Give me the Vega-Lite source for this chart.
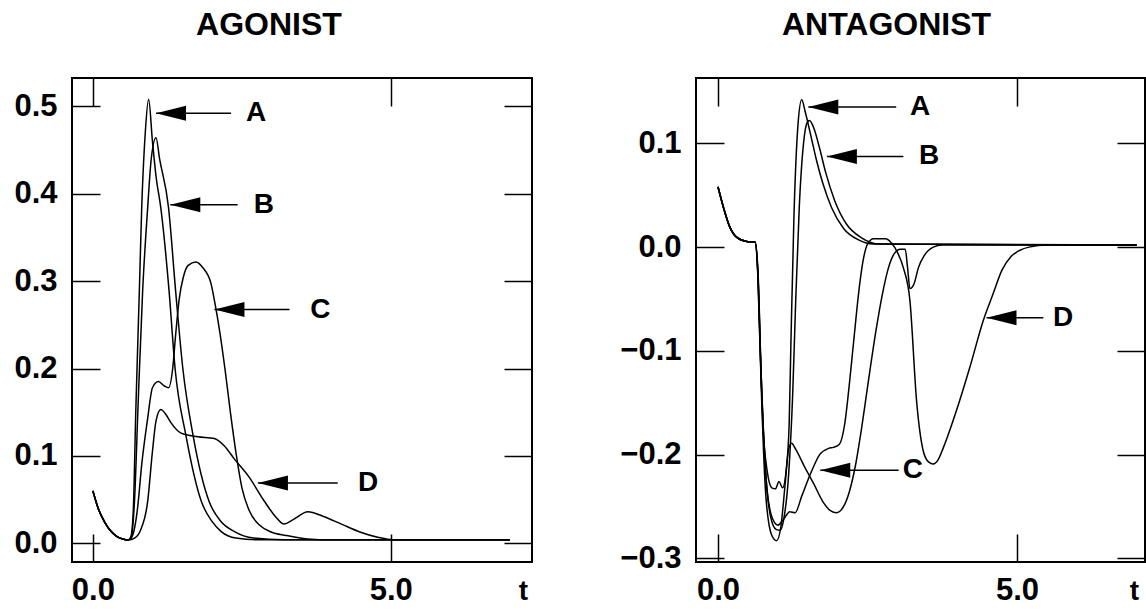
{
  "$schema": "https://vega.github.io/schema/vega-lite/v6.json",
  "background": "white",
  "padding": {"left": 11, "top": 8, "right": 0, "bottom": 0},
  "spacing": 71,
  "config": {
    "view": {"stroke": "black", "strokeWidth": 2},
    "font": "Liberation Sans",
    "axis": {"grid": false, "domain": false, "tickColor": "black", "tickWidth": 1.5, "tickSize": -28, "labelFont": "Liberation Sans", "labelFontSize": 31, "labelFontWeight": "bold", "labelColor": "black", "titleFont": "Liberation Sans", "titleFontSize": 28, "titleFontWeight": "bold", "titleColor": "black"},
    "title": {"font": "Liberation Sans", "fontSize": 32, "fontWeight": "bold", "color": "black"}
  },
  "datasets": {
    "agonist": [
      {"curve":"A","t":0,"v":0.06},{"curve":"A","t":0.1,"v":0.038},{"curve":"A","t":0.2,"v":0.024},{"curve":"A","t":0.3,"v":0.014},{"curve":"A","t":0.4,"v":0.008},{"curve":"A","t":0.5,"v":0.005},{"curve":"A","t":0.6,"v":0.004},
      {"curve":"A","t":0.64,"v":0.008},{"curve":"A","t":0.68,"v":0.04},{"curve":"A","t":0.72,"v":0.15},{"curve":"A","t":0.78,"v":0.288},{"curve":"A","t":0.82,"v":0.384},{"curve":"A","t":0.88,"v":0.47},{"curve":"A","t":0.936,"v":0.508},{"curve":"A","t":1.0,"v":0.46},{"curve":"A","t":1.06,"v":0.42},{"curve":"A","t":1.14,"v":0.384},{"curve":"A","t":1.28,"v":0.288},{"curve":"A","t":1.38,"v":0.2},{"curve":"A","t":1.56,"v":0.124},{"curve":"A","t":1.82,"v":0.048},{"curve":"A","t":2.0,"v":0.025},{"curve":"A","t":2.15,"v":0.0137},{"curve":"A","t":2.4,"v":0.006},{"curve":"A","t":2.8,"v":0.004},{"curve":"A","t":7.0,"v":0.004},
      {"curve":"B","t":0,"v":0.06},{"curve":"B","t":0.1,"v":0.038},{"curve":"B","t":0.2,"v":0.024},{"curve":"B","t":0.3,"v":0.014},{"curve":"B","t":0.4,"v":0.008},{"curve":"B","t":0.5,"v":0.005},{"curve":"B","t":0.6,"v":0.004},
      {"curve":"B","t":0.64,"v":0.006},{"curve":"B","t":0.7,"v":0.05},{"curve":"B","t":0.76,"v":0.16},{"curve":"B","t":0.835,"v":0.288},{"curve":"B","t":0.92,"v":0.384},{"curve":"B","t":0.98,"v":0.44},{"curve":"B","t":1.06,"v":0.464},{"curve":"B","t":1.12,"v":0.44},{"curve":"B","t":1.27,"v":0.384},{"curve":"B","t":1.39,"v":0.288},{"curve":"B","t":1.51,"v":0.2},{"curve":"B","t":1.68,"v":0.124},{"curve":"B","t":1.95,"v":0.048},{"curve":"B","t":2.15,"v":0.025},{"curve":"B","t":2.37,"v":0.0137},{"curve":"B","t":2.7,"v":0.006},{"curve":"B","t":3.2,"v":0.004},{"curve":"B","t":7.0,"v":0.004},
      {"curve":"C","t":0,"v":0.06},{"curve":"C","t":0.1,"v":0.038},{"curve":"C","t":0.2,"v":0.024},{"curve":"C","t":0.3,"v":0.014},{"curve":"C","t":0.4,"v":0.008},{"curve":"C","t":0.5,"v":0.005},{"curve":"C","t":0.6,"v":0.004},
      {"curve":"C","t":0.66,"v":0.008},{"curve":"C","t":0.75,"v":0.04},{"curve":"C","t":0.82,"v":0.09},{"curve":"C","t":0.92,"v":0.143},{"curve":"C","t":1.0,"v":0.178},{"curve":"C","t":1.1,"v":0.185},{"curve":"C","t":1.2,"v":0.18},{"curve":"C","t":1.27,"v":0.178},{"curve":"C","t":1.34,"v":0.2},{"curve":"C","t":1.39,"v":0.239},{"curve":"C","t":1.45,"v":0.28},{"curve":"C","t":1.52,"v":0.305},{"curve":"C","t":1.6,"v":0.318},{"curve":"C","t":1.73,"v":0.322},{"curve":"C","t":1.85,"v":0.315},{"curve":"C","t":1.98,"v":0.298},{"curve":"C","t":2.04,"v":0.278},{"curve":"C","t":2.13,"v":0.242},{"curve":"C","t":2.22,"v":0.198},{"curve":"C","t":2.31,"v":0.149},{"curve":"C","t":2.41,"v":0.1},{"curve":"C","t":2.5,"v":0.064},{"curve":"C","t":2.62,"v":0.038},{"curve":"C","t":2.81,"v":0.02},{"curve":"C","t":2.99,"v":0.013},{"curve":"C","t":3.24,"v":0.009},{"curve":"C","t":3.6,"v":0.005},{"curve":"C","t":4.0,"v":0.004},{"curve":"C","t":7.0,"v":0.004},
      {"curve":"D","t":0,"v":0.06},{"curve":"D","t":0.1,"v":0.038},{"curve":"D","t":0.2,"v":0.024},{"curve":"D","t":0.3,"v":0.014},{"curve":"D","t":0.4,"v":0.008},{"curve":"D","t":0.5,"v":0.005},{"curve":"D","t":0.6,"v":0.004},
      {"curve":"D","t":0.7,"v":0.006},{"curve":"D","t":0.8,"v":0.015},{"curve":"D","t":0.92,"v":0.048},{"curve":"D","t":1.0,"v":0.105},{"curve":"D","t":1.06,"v":0.14},{"curve":"D","t":1.14,"v":0.153},{"curve":"D","t":1.22,"v":0.148},{"curve":"D","t":1.31,"v":0.138},{"curve":"D","t":1.48,"v":0.126},{"curve":"D","t":1.76,"v":0.122},{"curve":"D","t":2.04,"v":0.12},{"curve":"D","t":2.2,"v":0.112},{"curve":"D","t":2.38,"v":0.096},{"curve":"D","t":2.62,"v":0.076},{"curve":"D","t":2.87,"v":0.049},{"curve":"D","t":3.06,"v":0.031},{"curve":"D","t":3.21,"v":0.022},{"curve":"D","t":3.36,"v":0.027},{"curve":"D","t":3.61,"v":0.036},{"curve":"D","t":3.86,"v":0.031},{"curve":"D","t":4.17,"v":0.022},{"curve":"D","t":4.48,"v":0.013},{"curve":"D","t":4.78,"v":0.007},{"curve":"D","t":5.03,"v":0.004},{"curve":"D","t":7.0,"v":0.004}
    ],
    "antagonist": [
      {"curve":"A","t":0,"v":0.058},{"curve":"A","t":0.09,"v":0.0385},{"curve":"A","t":0.2,"v":0.019},{"curve":"A","t":0.31,"v":0.0096},{"curve":"A","t":0.48,"v":0.0055},{"curve":"A","t":0.62,"v":0.005},
      {"curve":"A","t":0.66,"v":-0.02},{"curve":"A","t":0.7,"v":-0.09},{"curve":"A","t":0.75,"v":-0.17},{"curve":"A","t":0.82,"v":-0.215},{"curve":"A","t":0.9,"v":-0.232},{"curve":"A","t":0.96,"v":-0.233},{"curve":"A","t":1.02,"v":-0.226},{"curve":"A","t":1.08,"v":-0.232},{"curve":"A","t":1.14,"v":-0.215},{"curve":"A","t":1.19,"v":-0.17},{"curve":"A","t":1.22,"v":-0.09},{"curve":"A","t":1.27,"v":0.03},{"curve":"A","t":1.34,"v":0.12},{"curve":"A","t":1.4,"v":0.142},{"curve":"A","t":1.46,"v":0.13},{"curve":"A","t":1.55,"v":0.108},{"curve":"A","t":1.65,"v":0.083},{"curve":"A","t":1.75,"v":0.062},{"curve":"A","t":1.9,"v":0.038},{"curve":"A","t":2.1,"v":0.018},{"curve":"A","t":2.35,"v":0.007},{"curve":"A","t":2.6,"v":0.003},{"curve":"A","t":7.0,"v":0.002},
      {"curve":"B","t":0,"v":0.058},{"curve":"B","t":0.09,"v":0.0385},{"curve":"B","t":0.2,"v":0.019},{"curve":"B","t":0.31,"v":0.0096},{"curve":"B","t":0.48,"v":0.0055},{"curve":"B","t":0.62,"v":0.005},
      {"curve":"B","t":0.67,"v":-0.03},{"curve":"B","t":0.72,"v":-0.12},{"curve":"B","t":0.8,"v":-0.22},{"curve":"B","t":0.88,"v":-0.26},{"curve":"B","t":0.97,"v":-0.272},{"curve":"B","t":1.04,"v":-0.273},{"curve":"B","t":1.1,"v":-0.262},{"curve":"B","t":1.18,"v":-0.22},{"curve":"B","t":1.25,"v":-0.14},{"curve":"B","t":1.3,"v":-0.05},{"curve":"B","t":1.36,"v":0.04},{"curve":"B","t":1.43,"v":0.1},{"curve":"B","t":1.49,"v":0.12},{"curve":"B","t":1.53,"v":0.122},{"curve":"B","t":1.6,"v":0.115},{"curve":"B","t":1.7,"v":0.095},{"curve":"B","t":1.8,"v":0.072},{"curve":"B","t":1.95,"v":0.045},{"curve":"B","t":2.15,"v":0.022},{"curve":"B","t":2.4,"v":0.009},{"curve":"B","t":2.7,"v":0.003},{"curve":"B","t":7.0,"v":0.002},
      {"curve":"C","t":0,"v":0.058},{"curve":"C","t":0.09,"v":0.0385},{"curve":"C","t":0.2,"v":0.019},{"curve":"C","t":0.31,"v":0.0096},{"curve":"C","t":0.48,"v":0.0055},{"curve":"C","t":0.62,"v":0.005},
      {"curve":"C","t":0.67,"v":-0.03},{"curve":"C","t":0.72,"v":-0.13},{"curve":"C","t":0.8,"v":-0.24},{"curve":"C","t":0.9,"v":-0.278},{"curve":"C","t":0.98,"v":-0.283},{"curve":"C","t":1.05,"v":-0.27},{"curve":"C","t":1.12,"v":-0.23},{"curve":"C","t":1.18,"v":-0.195},{"curve":"C","t":1.23,"v":-0.189},{"curve":"C","t":1.3,"v":-0.195},{"curve":"C","t":1.45,"v":-0.212},{"curve":"C","t":1.6,"v":-0.228},{"curve":"C","t":1.75,"v":-0.245},{"curve":"C","t":1.88,"v":-0.254},{"curve":"C","t":1.98,"v":-0.256},{"curve":"C","t":2.1,"v":-0.25},{"curve":"C","t":2.2,"v":-0.235},{"curve":"C","t":2.3,"v":-0.21},{"curve":"C","t":2.4,"v":-0.175},{"curve":"C","t":2.5,"v":-0.135},{"curve":"C","t":2.64,"v":-0.081},{"curve":"C","t":2.75,"v":-0.045},{"curve":"C","t":2.85,"v":-0.02},{"curve":"C","t":2.95,"v":-0.006},{"curve":"C","t":3.05,"v":-0.002},{"curve":"C","t":3.13,"v":-0.002},{"curve":"C","t":3.17,"v":-0.02},{"curve":"C","t":3.21,"v":-0.04},{"curve":"C","t":3.28,"v":-0.035},{"curve":"C","t":3.35,"v":-0.02},{"curve":"C","t":3.45,"v":-0.008},{"curve":"C","t":3.6,"v":0.0},{"curve":"C","t":3.75,"v":0.002},{"curve":"C","t":7.0,"v":0.002},
      {"curve":"D","t":0,"v":0.058},{"curve":"D","t":0.09,"v":0.0385},{"curve":"D","t":0.2,"v":0.019},{"curve":"D","t":0.31,"v":0.0096},{"curve":"D","t":0.48,"v":0.0055},{"curve":"D","t":0.62,"v":0.005},
      {"curve":"D","t":0.67,"v":-0.025},{"curve":"D","t":0.72,"v":-0.12},{"curve":"D","t":0.8,"v":-0.22},{"curve":"D","t":0.9,"v":-0.26},{"curve":"D","t":1.0,"v":-0.268},{"curve":"D","t":1.1,"v":-0.262},{"curve":"D","t":1.2,"v":-0.255},{"curve":"D","t":1.29,"v":-0.256},{"curve":"D","t":1.4,"v":-0.24},{"curve":"D","t":1.55,"v":-0.218},{"curve":"D","t":1.7,"v":-0.2},{"curve":"D","t":1.85,"v":-0.194},{"curve":"D","t":1.93,"v":-0.193},{"curve":"D","t":2.03,"v":-0.19},{"curve":"D","t":2.12,"v":-0.17},{"curve":"D","t":2.2,"v":-0.13},{"curve":"D","t":2.27,"v":-0.09},{"curve":"D","t":2.35,"v":-0.045},{"curve":"D","t":2.42,"v":-0.015},{"curve":"D","t":2.5,"v":0.003},{"curve":"D","t":2.6,"v":0.008},{"curve":"D","t":2.8,"v":0.008},{"curve":"D","t":2.9,"v":0.004},{"curve":"D","t":3.0,"v":-0.005},{"curve":"D","t":3.1,"v":-0.02},{"curve":"D","t":3.21,"v":-0.052},{"curve":"D","t":3.32,"v":-0.148},{"curve":"D","t":3.43,"v":-0.196},{"curve":"D","t":3.52,"v":-0.207},{"curve":"D","t":3.6,"v":-0.209},{"curve":"D","t":3.68,"v":-0.205},{"curve":"D","t":3.77,"v":-0.193},{"curve":"D","t":3.99,"v":-0.157},{"curve":"D","t":4.21,"v":-0.116},{"curve":"D","t":4.44,"v":-0.07},{"curve":"D","t":4.6,"v":-0.045},{"curve":"D","t":4.75,"v":-0.022},{"curve":"D","t":4.9,"v":-0.009},{"curve":"D","t":5.05,"v":-0.003},{"curve":"D","t":5.2,"v":0.0},{"curve":"D","t":5.5,"v":0.002},{"curve":"D","t":7.0,"v":0.002}
    ],
    "agoArrows": [
      {"label":"A","tip":1.06,"tail":2.32,"y":0.492,"lx":2.74},
      {"label":"B","tip":1.30,"tail":2.43,"y":0.3875,"lx":2.87},
      {"label":"C","tip":2.04,"tail":3.30,"y":0.2674,"lx":3.82},
      {"label":"D","tip":2.77,"tail":4.11,"y":0.069,"lx":4.62}
    ],
    "antArrows": [
      {"label":"A","tip":1.51,"tail":2.98,"y":0.135,"lx":3.38},
      {"label":"B","tip":1.82,"tail":3.10,"y":0.0874,"lx":3.53},
      {"label":"C","tip":1.71,"tail":3.02,"y":-0.215,"lx":3.26},
      {"label":"D","tip":4.49,"tail":5.44,"y":-0.068,"lx":5.77}
    ]
  },
  "hconcat": [
    {
      "width": 460,
      "height": 484,
      "title": {"text": "AGONIST", "anchor": "middle", "dx": -33, "offset": 10, "baseline": "alphabetic"},
      "resolve": {"axis": {"x": "independent", "y": "independent"}},
      "layer": [
        {
          "data": {"name": "agonist"},
          "mark": {"type": "line", "color": "black", "strokeWidth": 1.5, "interpolate": "monotone"},
          "encoding": {
            "x": {"field": "t", "type": "quantitative", "scale": {"domain": [-0.35, 7.37], "nice": false, "zero": false},
                  "axis": {"orient": "bottom", "values": [0, 5], "format": ".1f", "labelPadding": 41, "title": "t", "titleAnchor": "start", "titleAlign": "center", "titleX": 451, "titleY": 37, "titleBaseline": "alphabetic", "minExtent": 45, "maxExtent": 45}},
            "y": {"field": "v", "type": "quantitative", "scale": {"domain": [-0.0214, 0.5324], "nice": false, "zero": false},
                  "axis": {"orient": "left", "values": [0, 0.1, 0.2, 0.3, 0.4, 0.5], "format": ".1f", "labelPadding": 43, "title": null, "minExtent": 60, "maxExtent": 60}},
            "detail": {"field": "curve"}
          }
        },
        {
          "data": {"name": "agoArrows"},
          "mark": {"type": "rule", "color": "black", "strokeWidth": 1.5},
          "encoding": {
            "x": {"field": "tip", "type": "quantitative", "scale": {"domain": [-0.35, 7.37], "nice": false, "zero": false},
                  "axis": {"orient": "top", "values": [0, 5], "labels": false, "title": null, "minExtent": 0, "maxExtent": 0}},
            "x2": {"field": "tail"},
            "y": {"field": "y", "type": "quantitative", "scale": {"domain": [-0.0214, 0.5324], "nice": false, "zero": false},
                  "axis": {"orient": "right", "values": [0, 0.1, 0.2, 0.3, 0.4, 0.5], "labels": false, "title": null, "minExtent": 0, "maxExtent": 0}}
          }
        },
        {
          "data": {"name": "agoArrows"},
          "mark": {"type": "point", "shape": "M0,0L2,-0.5L2,0.5Z", "size": 900, "filled": true, "color": "black", "opacity": 1, "strokeWidth": 0},
          "encoding": {
            "x": {"field": "tip", "type": "quantitative", "scale": {"domain": [-0.35, 7.37], "nice": false, "zero": false}, "axis": null},
            "y": {"field": "y", "type": "quantitative", "scale": {"domain": [-0.0214, 0.5324], "nice": false, "zero": false}, "axis": null}
          }
        },
        {
          "data": {"name": "agoArrows"},
          "mark": {"type": "text", "fontSize": 28, "fontWeight": "bold", "font": "Liberation Sans", "color": "black", "align": "center", "baseline": "middle"},
          "encoding": {
            "x": {"field": "lx", "type": "quantitative", "scale": {"domain": [-0.35, 7.37], "nice": false, "zero": false}, "axis": null},
            "y": {"field": "y", "type": "quantitative", "scale": {"domain": [-0.0214, 0.5324], "nice": false, "zero": false}, "axis": null},
            "text": {"field": "label"}
          }
        }
      ]
    },
    {
      "width": 449,
      "height": 484,
      "title": {"text": "ANTAGONIST", "anchor": "middle", "dx": -34, "offset": 10, "baseline": "alphabetic"},
      "resolve": {"axis": {"x": "independent", "y": "independent"}},
      "layer": [
        {
          "data": {"name": "antagonist"},
          "mark": {"type": "line", "color": "black", "strokeWidth": 1.5, "interpolate": "monotone"},
          "encoding": {
            "x": {"field": "t", "type": "quantitative", "scale": {"domain": [-0.368, 7.14], "nice": false, "zero": false},
                  "axis": {"orient": "bottom", "values": [0, 5], "format": ".1f", "labelPadding": 41, "title": "t", "titleAnchor": "start", "titleAlign": "center", "titleX": 438, "titleY": 37, "titleBaseline": "alphabetic", "minExtent": 45, "maxExtent": 45}},
            "y": {"field": "v", "type": "quantitative", "scale": {"domain": [-0.3035, 0.163], "nice": false, "zero": false},
                  "axis": {"orient": "left", "values": [-0.3, -0.2, -0.1, 0, 0.1], "format": ".1f", "labelPadding": 43, "title": null, "minExtent": 90, "maxExtent": 90}},
            "detail": {"field": "curve"}
          }
        },
        {
          "data": {"name": "antArrows"},
          "mark": {"type": "rule", "color": "black", "strokeWidth": 1.5},
          "encoding": {
            "x": {"field": "tip", "type": "quantitative", "scale": {"domain": [-0.368, 7.14], "nice": false, "zero": false},
                  "axis": {"orient": "top", "values": [0, 5], "labels": false, "title": null, "minExtent": 0, "maxExtent": 0}},
            "x2": {"field": "tail"},
            "y": {"field": "y", "type": "quantitative", "scale": {"domain": [-0.3035, 0.163], "nice": false, "zero": false},
                  "axis": {"orient": "right", "values": [-0.3, -0.2, -0.1, 0, 0.1], "labels": false, "title": null, "minExtent": 0, "maxExtent": 0}}
          }
        },
        {
          "data": {"name": "antArrows"},
          "mark": {"type": "point", "shape": "M0,0L2,-0.5L2,0.5Z", "size": 900, "filled": true, "color": "black", "opacity": 1, "strokeWidth": 0},
          "encoding": {
            "x": {"field": "tip", "type": "quantitative", "scale": {"domain": [-0.368, 7.14], "nice": false, "zero": false}, "axis": null},
            "y": {"field": "y", "type": "quantitative", "scale": {"domain": [-0.3035, 0.163], "nice": false, "zero": false}, "axis": null}
          }
        },
        {
          "data": {"name": "antArrows"},
          "mark": {"type": "text", "fontSize": 28, "fontWeight": "bold", "font": "Liberation Sans", "color": "black", "align": "center", "baseline": "middle"},
          "encoding": {
            "x": {"field": "lx", "type": "quantitative", "scale": {"domain": [-0.368, 7.14], "nice": false, "zero": false}, "axis": null},
            "y": {"field": "y", "type": "quantitative", "scale": {"domain": [-0.3035, 0.163], "nice": false, "zero": false}, "axis": null},
            "text": {"field": "label"}
          }
        }
      ]
    }
  ]
}
